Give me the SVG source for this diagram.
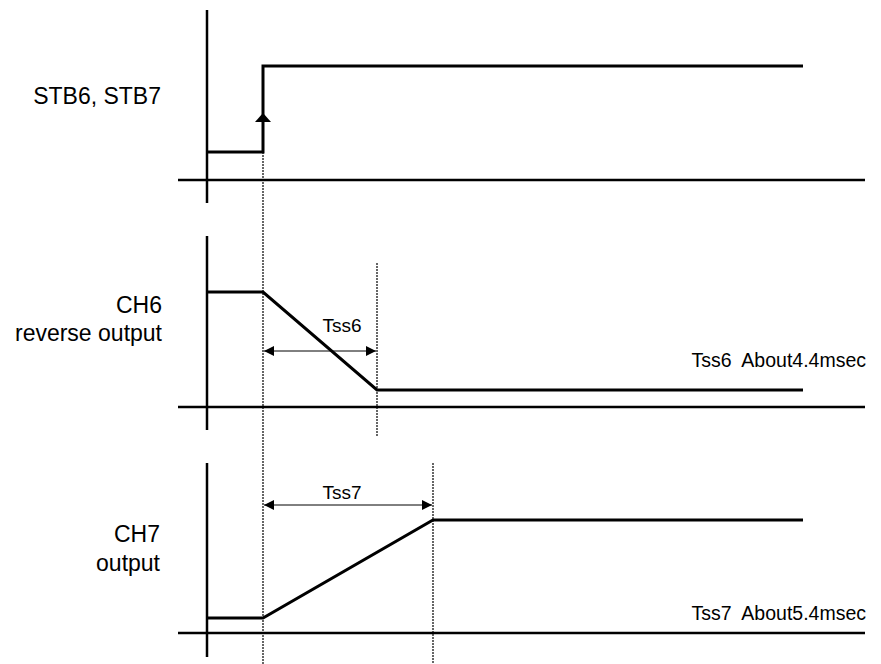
<svg xmlns="http://www.w3.org/2000/svg" width="881" height="664" viewBox="0 0 881 664">
<style>
.ax{stroke:#000;stroke-width:2.5;fill:none}
.sig{stroke:#000;stroke-width:3;fill:none;stroke-linejoin:miter}
.dot{stroke:#000;stroke-width:1.2;stroke-dasharray:2,1;fill:none}
.dim{stroke:#000;stroke-width:1;fill:none}
.lbl{font-family:"Liberation Sans",Arial,sans-serif;font-size:23px;fill:#000}
.sm{font-family:"Liberation Sans",Arial,sans-serif;font-size:19px;fill:#000}
.nt{font-family:"Liberation Sans",Arial,sans-serif;font-size:19.5px;fill:#000}
</style>
<defs>
<marker id="ah" viewBox="0 0 10 10" refX="10" refY="5" markerWidth="10" markerHeight="10" markerUnits="userSpaceOnUse" orient="auto-start-reverse">
<path d="M0,0 L10,5 L0,10 Z" fill="#000"/>
</marker>
</defs>
<rect width="881" height="664" fill="#fff"/>
<g id="axes">
<line class="ax" x1="207" y1="10" x2="207" y2="203"/>
<line class="ax" x1="178" y1="180" x2="865" y2="180"/>
<line class="ax" x1="207" y1="236" x2="207" y2="430"/>
<line class="ax" x1="178" y1="407" x2="865" y2="407"/>
<line class="ax" x1="207" y1="463" x2="207" y2="657"/>
<line class="ax" x1="178" y1="633" x2="865" y2="633"/>
</g>
<g id="connectors">
<line class="dot" x1="263" y1="152" x2="263" y2="664"/>
<line class="dot" x1="377" y1="263" x2="377" y2="436"/>
<line class="dot" x1="433" y1="463" x2="433" y2="664"/>
<line class="dim" x1="264" y1="351" x2="376" y2="351" marker-start="url(#ah)" marker-end="url(#ah)"/>
<line class="dim" x1="264" y1="505" x2="432" y2="505" marker-start="url(#ah)" marker-end="url(#ah)"/>
</g>
<g id="stb">
<polyline class="sig" points="207,152 263,152 263,66 803,66"/>
<path d="M263,113 L255,122 L271,122 Z" fill="#000"/>
<text class="lbl" x="161" y="104" text-anchor="end">STB6, STB7</text>
</g>
<g id="ch6">
<polyline class="sig" points="207,292 263,292 377,390 803,390"/>
<text class="lbl" x="162" y="313" text-anchor="end">CH6</text>
<text class="lbl" x="162" y="341" text-anchor="end">reverse output</text>
<text class="sm" x="342" y="332" text-anchor="middle">Tss6</text>
<text class="nt" x="866" y="367" text-anchor="end" xml:space="preserve">Tss6  About4.4msec</text>
</g>
<g id="ch7">
<polyline class="sig" points="207,618 263,618 433,520 803,520"/>
<text class="lbl" x="160" y="542" text-anchor="end">CH7</text>
<text class="lbl" x="160" y="571" text-anchor="end">output</text>
<text class="sm" x="342" y="499" text-anchor="middle">Tss7</text>
<text class="nt" x="866" y="620" text-anchor="end" xml:space="preserve">Tss7  About5.4msec</text>
</g>
</svg>
